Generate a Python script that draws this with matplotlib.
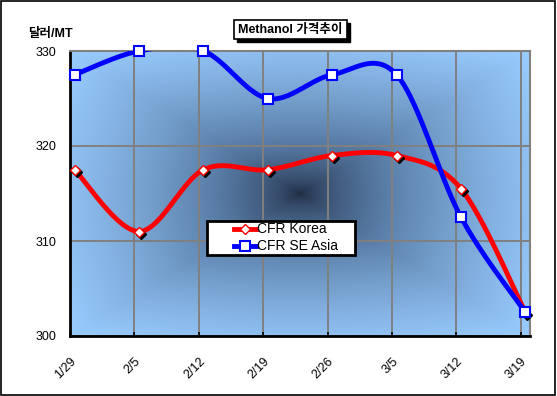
import numpy as np
import matplotlib
matplotlib.use("Agg")
import matplotlib.pyplot as plt
import matplotlib.transforms as mtransforms
from matplotlib.colors import LinearSegmentedColormap

plt.rcParams['font.family'] = ['Liberation Sans', 'Noto Sans CJK KR', 'DejaVu Sans']

# weekly prices, USD/MT
dates = ["1/29", "2/5", "2/12", "2/19", "2/26", "3/5", "3/12", "3/19"]
cfr_korea = [317.5, 311.0, 317.5, 317.5, 319.0, 319.0, 315.5, 302.5]
cfr_se_asia = [327.5, 330.0, 330.0, 325.0, 327.5, 327.5, 312.5, 302.5]
series_names = ["CFR Korea", "CFR SE Asia"]

# points sit half a day to the right of each weekly tick
tick_x = np.arange(len(dates)) * 7.0
data_x = tick_x + 0.5

W, H = 557, 396


def smooth(xs, ys, n=30):
    # excel-like smoothed line (catmull-rom bezier through every point)
    xs = np.asarray(xs, float)
    ys = np.asarray(ys, float)
    px = np.concatenate([[xs[0]], xs, [xs[-1]]])
    py = np.concatenate([[ys[0]], ys, [ys[-1]]])
    outx, outy = [], []
    t = np.linspace(0, 1, n)
    for i in range(1, len(px) - 2):
        p0 = np.array([px[i], py[i]])
        p3 = np.array([px[i + 1], py[i + 1]])
        c1 = p0 + (np.array([px[i + 1], py[i + 1]]) - np.array([px[i - 1], py[i - 1]])) / 6
        c2 = p3 - (np.array([px[i + 2], py[i + 2]]) - np.array([px[i], py[i]])) / 6
        b = ((1 - t) ** 3)[:, None] * p0 + (3 * (1 - t) ** 2 * t)[:, None] * c1 \
            + (3 * (1 - t) * t ** 2)[:, None] * c2 + (t ** 3)[:, None] * p3
        outx.extend(b[:, 0])
        outy.extend(b[:, 1])
    return outx, outy


def fx(px):
    return px / W


def fy(py):
    return 1 - py / H


fig = plt.figure(figsize=(5.57, 3.96), dpi=100)
ax = fig.add_axes([fx(70), fy(336), 460 / W, 285 / H])

xmin, xmax = 0.0, 50.0
ymin, ymax = 300, 330
ax.set_xlim(xmin, xmax)
ax.set_ylim(ymin, ymax)

# "from center" gradient fill of the plot area
gx, gy = np.meshgrid(np.linspace(-1, 1, 400), np.linspace(-1, 1, 300))
rect = np.maximum(np.abs(gx), np.abs(gy))
rad = np.sqrt(gx ** 2 + gy ** 2) / np.sqrt(2)
g = np.clip(0.55 * rect + 0.45 * rad, 0, 1) ** 0.6
cmap = LinearSegmentedColormap.from_list("bg", ["#1f2d44", "#5a7ea8", "#99ccff"])
ax.imshow(g, cmap=cmap, extent=[xmin, xmax, ymin, ymax], aspect='auto',
          origin='lower', zorder=0, interpolation='bilinear')

ax.set_xticks(tick_x)
ax.set_xticklabels(dates, rotation=45, ha='right', rotation_mode='anchor', fontsize=9)
ax.set_yticks([300, 310, 320, 330])
ax.tick_params(axis='y', length=0, pad=10, labelsize=9)
ax.tick_params(axis='x', direction='in', length=3, width=1.2, pad=14, color='black')
ax.grid(True, color='#808080', lw=1.4, zorder=1)
for s in ['top', 'right']:
    ax.spines[s].set_color('#808080')
    ax.spines[s].set_linewidth(1.5)
for s in ['left', 'bottom']:
    ax.spines[s].set_color('black')
    ax.spines[s].set_linewidth(2)

sx, sy = smooth(data_x, cfr_korea)
ax.plot(sx, sy, color='#ff0000', lw=3.5, zorder=3, solid_capstyle='round')
shadow = mtransforms.offset_copy(ax.transData, fig=fig, x=2, y=-2.5, units='dots')
ax.plot(data_x, cfr_korea, ls='none', marker='D', ms=5, color='black',
        transform=shadow, zorder=3.5, clip_on=False)
ax.plot(data_x, cfr_korea, ls='none', marker='D', ms=5.5, mfc='white',
        mec='#ff0000', mew=1, zorder=4, clip_on=False)

sx, sy = smooth(data_x, cfr_se_asia)
ax.plot(sx, sy, color='#0000ff', lw=3.5, zorder=5, solid_capstyle='round')
ax.plot(data_x, cfr_se_asia, ls='none', marker='s', ms=6.5, mfc='white',
        mec='#0000ff', mew=1.5, zorder=6, clip_on=False)

# legend box, drawn by hand to get the excel spacing
fig.patches.append(plt.Rectangle((fx(207), fy(255)), 148 / W, 34 / H,
                                 transform=fig.transFigure, fc='white', ec='black',
                                 lw=2, zorder=10))
line_colors = ['#ff0000', '#0000ff']
marker_styles = [dict(marker='D', ms=5.5, mfc='white', mec='#ff0000'),
                 dict(marker='s', ms=6.5, mfc='white', mec='#0000ff', mew=1.5)]
for row, (name, c, st) in enumerate(zip(series_names, line_colors, marker_styles)):
    yy = fy(229 + row * 17)
    fig.add_artist(plt.Line2D([fx(234), fx(256)], [yy, yy], lw=3.5, color=c, zorder=11,
                              transform=fig.transFigure))
    fig.add_artist(plt.Line2D([fx(245)], [yy], lw=0, zorder=12,
                              transform=fig.transFigure, **st))
    fig.text(fx(257), yy, name, ha='left', va='center', fontsize=10, zorder=12)

# title box with drop shadow
fig.patches.append(plt.Rectangle((fx(237), fy(42)), 113 / W, 19 / H,
                                 transform=fig.transFigure, fc='black', ec='black', zorder=5))
fig.patches.append(plt.Rectangle((fx(234), fy(39)), 113 / W, 19 / H,
                                 transform=fig.transFigure, fc='white', ec='black',
                                 lw=1.2, zorder=6))
fig.text(fx(290.5), fy(29.5), "Methanol 가격추이", ha='center', va='center', fontsize=9,
         fontweight='bold', color='black', zorder=7)

fig.text(fx(28), fy(34), "달러/MT", ha='left', va='center', fontsize=9,
         fontweight='bold')

# outer chart frame
fig.patches.append(plt.Rectangle((0.002, 0.003), 0.995, 0.994, transform=fig.transFigure,
                                 fill=False, ec='black', lw=1.2))

fig.savefig("out.png", dpi=100)
